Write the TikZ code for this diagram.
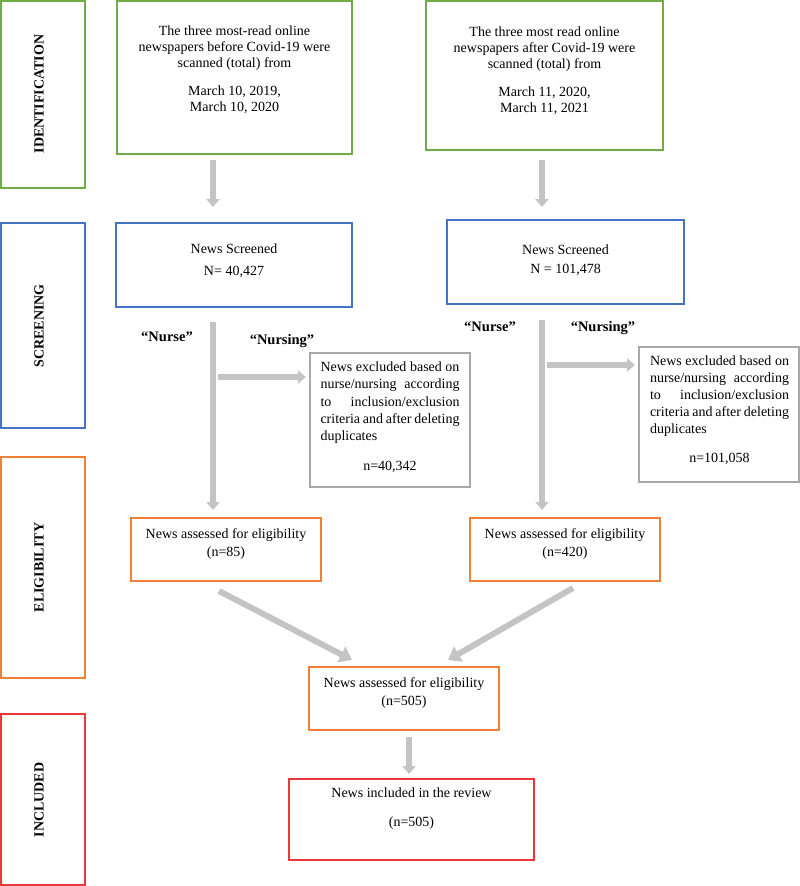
\documentclass[tikz,border=0pt]{standalone}
\usepackage{fontspec}
\setmainfont{Liberation Serif}
\usetikzlibrary{arrows.meta,calc}
\definecolor{cgreen}{RGB}{112,173,71}
\definecolor{cblue}{RGB}{68,114,196}
\definecolor{corange}{RGB}{242,128,50}
\definecolor{cred}{RGB}{235,55,60}
\definecolor{cgrayb}{RGB}{168,168,168}
\definecolor{carrow}{RGB}{196,196,196}
\begin{document}
\begin{tikzpicture}[x=1pt,y=-1pt,
 box/.style={draw,line width=1.5pt,inner sep=0pt,outer sep=0pt,fill=white},
 txt/.style={inner sep=0pt,align=center,font=\fontsize{14}{16}\selectfont},
 stagelbl/.style={rotate=90,font=\fontsize{14}{16}\selectfont\bfseries,inner sep=0pt},
 kw/.style={font=\fontsize{14.5}{16}\selectfont\bfseries,inner sep=0pt},
 garrow/.style={draw=carrow,line width=6pt,-{Triangle[width=13pt,length=8pt]}},
 darrow/.style={draw=carrow,line width=6pt,-{Triangle[width=17pt,length=12pt]}},
]
\useasboundingbox (0,0) rectangle (800,886);
% stage boxes
\node[box,draw=cgreen,minimum width=84pt,minimum height=187pt] (sId) at (43,94.5) {};
\node[box,draw=cblue,minimum width=84pt,minimum height=205pt] (sSc) at (43,325.5) {};
\node[box,draw=corange,minimum width=84pt,minimum height=221pt] (sEl) at (43,567.5) {};
\node[box,draw=cred,minimum width=84pt,minimum height=171pt] (sIn) at (43,799.5) {};
\node[stagelbl] (lId) at (39,94) {IDENTIFICATION};
\node[stagelbl] (lSc) at (39,326) {SCREENING};
\node[stagelbl] (lEl) at (39,567.5) {ELIGIBILITY};
\node[stagelbl] (lIn) at (39,800) {INCLUDED};
% boxes
\node[box,draw=cgreen,minimum width=235pt,minimum height=153pt] (tl) at (234.5,77.5) {};
\node[box,draw=cgreen,minimum width=237pt,minimum height=149pt] (tr) at (544.5,75.5) {};
\node[box,draw=cblue,minimum width=236pt,minimum height=84pt] (scrL) at (234,265) {};
\node[box,draw=cblue,minimum width=237pt,minimum height=84pt] (scrR) at (565.5,262) {};
\node[box,draw=cgrayb,minimum width=160pt,minimum height=134pt] (exL) at (390,420) {};
\node[box,draw=cgrayb,minimum width=160pt,minimum height=135pt] (exR) at (719,414.5) {};
\node[box,draw=corange,minimum width=190pt,minimum height=63pt] (eligL) at (226,549.5) {};
\node[box,draw=corange,minimum width=190pt,minimum height=63pt] (eligR) at (565,549.5) {};
\node[box,draw=corange,minimum width=190pt,minimum height=63pt] (mid) at (404,698.5) {};
\node[box,draw=cred,minimum width=245pt,minimum height=81pt] (incl) at (411.5,819.5) {};
% texts
\node[txt] (tlt) at (234.5,69.5) {The three most-read online\\newspapers before Covid-19 were\\scanned (total) from\\[12pt]March 10, 2019,\\March 10, 2020};
\node[txt] (trt) at (544.5,70.5) {The three most read online\\newspapers after Covid-19 were\\scanned (total) from\\[12pt]March 11, 2020,\\March 11, 2021};
\node[txt] (scrLt) at (234,261) {News Screened\\[6pt]N= 40,427};
\node[txt] (scrRt) at (565.5,260) {News Screened\\[3pt]N = 101,478};
\node[txt,font=\fontsize{14}{17.3}\selectfont] (exLt) at (390,417) {\makebox[139pt][s]{News excluded based on}\\\makebox[139pt][s]{nurse/nursing according}\\\makebox[139pt][s]{to inclusion/exclusion}\\\makebox[139pt][s]{criteria and after deleting}\\\makebox[139pt][l]{duplicates}\\[12pt]n=40,342};
\node[txt,font=\fontsize{14}{17}\selectfont] (exRt) at (719.5,410.5) {\makebox[139pt][s]{News excluded based on}\\\makebox[139pt][s]{nurse/nursing according}\\\makebox[139pt][s]{to inclusion/exclusion}\\\makebox[139pt][s]{criteria and after deleting}\\\makebox[139pt][l]{duplicates}\\[12pt]n=101,058};
\node[txt,font=\fontsize{14}{18}\selectfont] (eligLt) at (226,544) {News assessed for eligibility\\(n=85)};
\node[txt,font=\fontsize{14}{18}\selectfont] (eligRt) at (565,544) {News assessed for eligibility\\(n=420)};
\node[txt,font=\fontsize{14}{18}\selectfont] (midt) at (404,693) {News assessed for eligibility\\(n=505)};
\node[txt,font=\fontsize{14}{29}\selectfont] (inclt) at (411.5,808.5) {News included in the review\\(n=505)};
% keyword labels
\node[kw] (nuL) at (167,337) {“Nurse”};
\node[kw] (ngL) at (282,341) {“Nursing”};
\node[kw] (nuR) at (490,327) {“Nurse”};
\node[kw] (ngR) at (603,328) {“Nursing”};
% connectors
\coordinate (cL) at (213,0);
\coordinate (cR) at (542,0);
\draw[garrow] ($(tl.south -| cL)+(0,6)$) -- ($(scrL.north -| cL)+(0,-16)$);
\draw[garrow] ($(tr.south -| cR)+(0,10)$) -- ($(scrR.north -| cR)+(0,-13)$);
\draw[garrow] ($(scrL.south -| cL)+(0,15)$) -- ($(eligL.north -| cL)+(0,-8)$);
\draw[garrow] ($(scrR.south -| cR)+(0,16)$) -- ($(eligR.north -| cR)+(0,-8)$);
\draw[garrow] ($(exL.west -| cL)+(5,-43)$) -- ($(exL.west)+(-4,-43)$);
\draw[garrow] ($(exR.west -| cR)+(5,-49.5)$) -- ($(exR.west)+(-4,-49.5)$);
\draw[darrow] ($(eligL.south)+(-7,10)$) -- ($(mid.north)+(-52,-7)$);
\draw[darrow] ($(eligR.south)+(8,7)$) -- ($(mid.north)+(44,-7)$);
\draw[garrow] ($(mid.south)+(5,7)$) -- ($(incl.north)+(-2.5,-5)$);
\end{tikzpicture}
\end{document}
